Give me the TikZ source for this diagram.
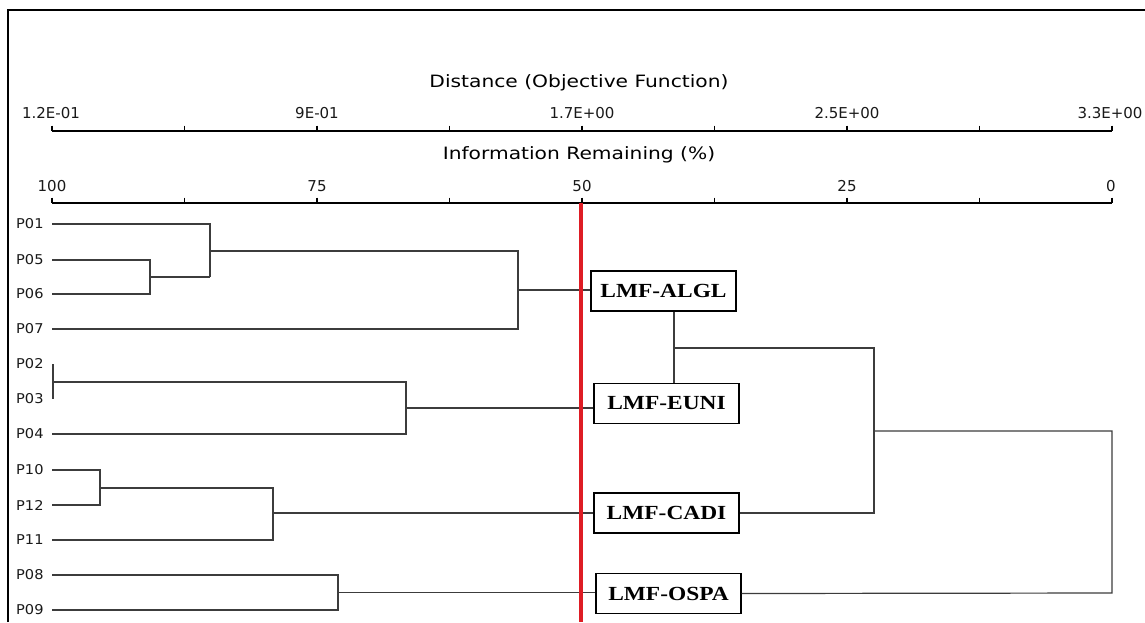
\documentclass[tikz,border=0pt]{standalone}
\usepackage{fontspec}
\setmainfont{Liberation Serif}
\newfontfamily\dejavu{DejaVu Sans}
\usepackage{graphicx}
\definecolor{cutred}{RGB}{222,28,36}
\definecolor{dendgray}{RGB}{60,60,60}
\newcommand\myxs[2]{\scalebox{#1}[1]{#2}}
\begin{document}
\begin{tikzpicture}[x=1pt,y=-1pt,
  dend/.style={draw=dendgray, line width=1.2pt},
  axisline/.style={line width=1.7pt, black},
  tickmark/.style={line width=1.7pt, black},
  ticklbl/.style={font=\dejavu\fontsize{15}{16}\selectfont, anchor=base, inner sep=0, text=black!90},
  axtitle/.style={font=\dejavu\fontsize{17}{18}\selectfont, anchor=base, inner sep=0, text=black},
  leaf/.style={font=\dejavu\fontsize{13.5}{14}\selectfont, anchor=west, inner sep=0, text=black!90},
  grp/.style={draw, line width=1.4pt, minimum width=145pt, minimum height=40pt, inner sep=0, font=\fontsize{20}{22}\selectfont\bfseries},
  cut/.style={line width=3.5pt, draw=cutred}
]
\useasboundingbox (0,0) rectangle (1145,622);
\fill[white] (0,0) rectangle (1145,622);
% frame
\draw[line width=1.8pt] (8,622) -- (8,10) -- (1145,10);

% distance axis
\node[axtitle] (dtitle) at (579,87) {\myxs{1.19}{Distance (Objective Function)}};
\draw[axisline] (52,131) -- (1112,131);
\foreach \i in {0,...,8} \draw[tickmark] ({52+\i*132.5},125.5) -- ({52+\i*132.5},131);
\node[ticklbl] (d1) at (51,118) {1.2E-01};
\node[ticklbl] (d2) at (317,118) {9E-01};
\node[ticklbl] (d3) at (582,118) {1.7E+00};
\node[ticklbl] (d4) at (847,118) {2.5E+00};
\node[ticklbl] (d5) at (1110,118) {3.3E+00};

% information axis
\node[axtitle] (ititle) at (579,159) {\myxs{1.19}{Information Remaining (\%)}};
\draw[axisline] (52,203) -- (1112,203);
\foreach \i in {0,...,8} \draw[tickmark] ({52+\i*132.5},197.5) -- ({52+\i*132.5},203);
\node[ticklbl] (i1) at (52,191) {100};
\node[ticklbl] (i2) at (317,191) {75};
\node[ticklbl] (i3) at (582,191) {50};
\node[ticklbl] (i4) at (847,191) {25};
\node[ticklbl] (i5) at (1111,191) {0};

% leaf labels
\foreach \n/\y in {01/224,05/260,06/294,07/329,02/364,03/399,04/434,10/470,12/505,11/540,08/575,09/610}{
  \node[leaf] (P\n) at (16,\y) {\myxs{1.08}{P\n}};
  \coordinate (l\n) at (52,\y);
}

% group boxes
\node[grp] (ALGL) at (663.5,291) {\myxs{1.17}{LMF-ALGL}};
\node[grp] (EUNI) at (666.5,403.5) {\myxs{1.17}{LMF-EUNI}};
\node[grp] (CADI) at (666.5,513) {\myxs{1.17}{LMF-CADI}};
\node[grp] (OSPA) at (668.5,593.5) {\myxs{1.17}{LMF-OSPA}};

% join points
\coordinate (j56) at (150,277);
\coordinate (j1) at (210,251);
\coordinate (jA) at (518,290);
\coordinate (j23) at (53,382);
\coordinate (jE) at (406,408);
\coordinate (j1012) at (100,488);
\coordinate (jC) at (273,513);
\coordinate (j89) at (338,592.5);
\coordinate (jAE) at (674,348);
\coordinate (jR) at (874,431);
\coordinate (jRoot) at (1112,593);

% cluster ALGL
\draw[dend] (l05) -- (l05 -| j56) -- (l06 -| j56) -- (l06);
\draw[dend] (l01) -- (l01 -| j1) -- (j56 -| j1);
\draw[dend] (j56) -- (j56 -| j1);
\draw[dend] (j1) -- (j1 -| jA) -- (l07 -| jA) -- (l07);
\draw[dend] (jA) -- (jA -| ALGL.west);
% cluster EUNI
\draw[dend] (l02 -| j23) -- (l03 -| j23);
\draw[dend] (j23) -- (j23 -| jE) -- (l04 -| jE) -- (l04);
\draw[dend] (jE) -- (jE -| EUNI.west);
% cluster CADI
\draw[dend] (l10) -- (l10 -| j1012) -- (l12 -| j1012) -- (l12);
\draw[dend] (j1012) -- (j1012 -| jC) -- (l11 -| jC) -- (l11);
\draw[dend] (jC) -- (jC -| CADI.west);
% cluster OSPA
\draw[dend] (l08) -- (l08 -| j89) -- (l09 -| j89) -- (l09);
\draw[dend] (j89) -- (j89 -| OSPA.west);
% upper joins
\draw[dend] (ALGL.south -| jAE) -- (EUNI.north -| jAE);
\draw[dend] (jAE) -- (jAE -| jR) -- (CADI.east -| jR) -- (CADI.east);
\draw[dend] (jR) -- (jR -| jRoot) -- (jRoot) -- (OSPA.east);

% cut line
\coordinate (cutTop) at (581,203);
\coordinate (cutBot) at (581,622);
\draw[cut] (cutTop) -- (cutBot);
\end{tikzpicture}
\end{document}
